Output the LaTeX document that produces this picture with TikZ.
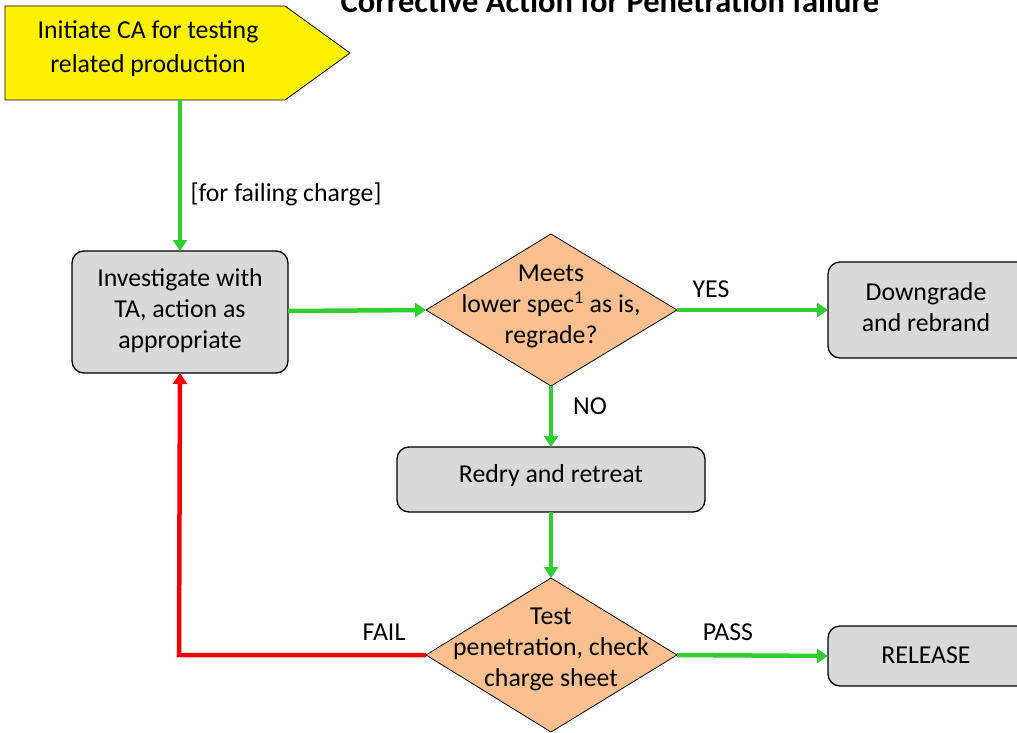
\documentclass[tikz,border=0pt]{standalone}
\usepackage{fontspec}
\setmainfont{Carlito}
\usetikzlibrary{arrows.meta}
\definecolor{flowgreen}{RGB}{50,205,50}
\definecolor{flowred}{RGB}{240,0,0}
\definecolor{boxgray}{RGB}{217,217,217}
\definecolor{decorange}{RGB}{250,192,144}
\begin{document}
\begin{tikzpicture}[x=1pt,y=-1pt,
  txt/.style={font=\fontsize{25.8}{31}\selectfont, align=center, inner sep=0pt},
  procbox/.style={draw=black, line width=1.3pt, fill=boxgray, rounded corners=12pt},
  decision/.style={draw=black, line width=0.8pt, fill=decorange},
  gflow/.style={draw=flowgreen, line width=4.5pt, -{Triangle[length=11pt,width=14pt]}},
  rflow/.style={draw=flowred, line width=4.5pt, -{Triangle[length=11pt,width=14pt]}},
  lbl/.style={font=\fontsize{25.8}{31}\selectfont, inner sep=0pt}
]
\useasboundingbox (0,0) rectangle (1017,733);

% title, running off the top edge
\node[font=\bfseries\fontsize{32.5}{38}\selectfont, inner sep=0pt, anchor=base] (title) at (610,12.5) {Corrective Action for Penetration failure};

% start pentagon
\draw[line width=0.8pt, fill=yellow] (5,6) -- (285,6) -- (350,53) -- (285,100) -- (5,100) -- cycle;
\coordinate (startbot) at (180,100);
\node[txt, font=\fontsize{25.8}{34}\selectfont] (start) at (148,49) {Initiate CA for testing\\related production};

% process boxes
\draw[procbox] (72,251) rectangle (288,373);
\node[txt] (invest) at (180,311) {Investigate with\\TA, action as\\appropriate};
\coordinate (investtop) at (180,251);
\coordinate (investbot) at (180,373);
\coordinate (investright) at (288,311);

\draw[procbox] (828,262) rectangle (1030,358);
\node[txt] (down) at (926,307) {Downgrade\\and rebrand};
\coordinate (downleft) at (828,310);

\draw[procbox] (397,447) rectangle (705,512);
\node[txt] (redry) at (551,476) {Redry and retreat};
\coordinate (redrytop) at (551,447);
\coordinate (redrybot) at (551,512);

\draw[procbox] (828,626) rectangle (1030,686);
\node[txt] (release) at (926,655) {RELEASE};
\coordinate (releaseleft) at (828,656);

% decisions
\draw[decision] (426,310) -- (551,234) -- (677,310) -- (551,386) -- cycle;
\node[txt] (meets) at (551,306) {Meets\\lower spec\textsuperscript{1} as is,\\regrade?};
\coordinate (d1left) at (426,310);
\coordinate (d1right) at (677,310);
\coordinate (d1bot) at (551,386);

\draw[decision] (426,655) -- (551,578) -- (677,655) -- (551,732) -- cycle;
\node[txt] (test) at (551,649) {Test\\penetration, check\\charge sheet};
\coordinate (d2left) at (426,655);
\coordinate (d2right) at (677,655);
\coordinate (d2top) at (551,578);

% connectors
\draw[gflow] (startbot) -- (investtop);
\node[lbl] (failing) at (286,194) {[for failing charge]};
\draw[gflow] (investright) -- (d1left);
\draw[gflow] (d1right) -- (downleft);
\node[lbl] (yes) at (711,289) {YES};
\draw[gflow] (d1bot) -- (redrytop);
\node[lbl] (no) at (590,406) {NO};
\draw[gflow] (redrybot) -- (d2top);
\draw[gflow] (d2right) -- (releaseleft);
\node[lbl] (pass) at (728,632) {PASS};
\draw[rflow] (d2left) -- (179,655) -- (investbot);
\node[lbl] (fail) at (384,632) {FAIL};
\end{tikzpicture}
\end{document}
